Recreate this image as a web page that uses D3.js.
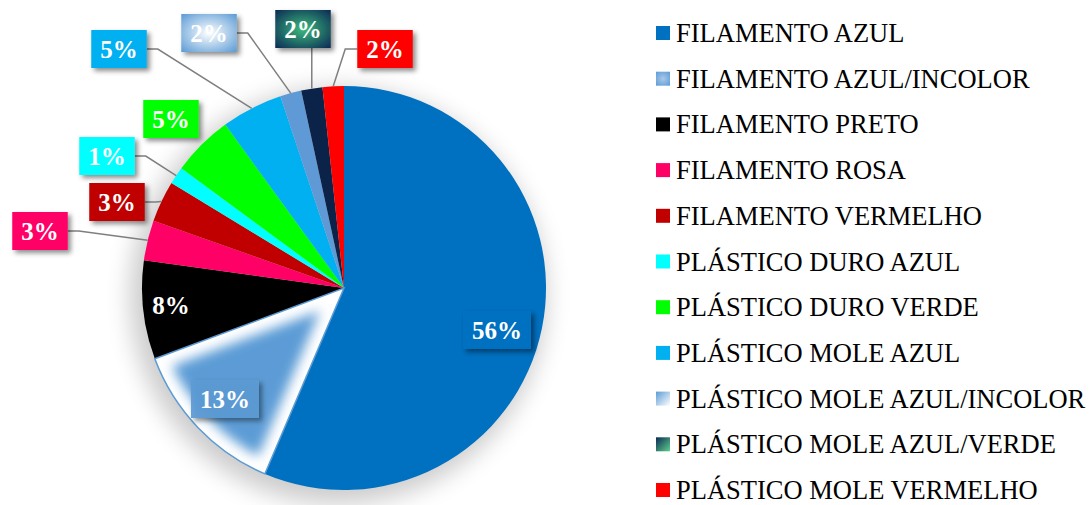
<!DOCTYPE html>
<html>
<head>
<meta charset="utf-8">
<script src="https://cdn.jsdelivr.net/npm/d3@7"></script>
<style>
  body { margin: 0; background: #fff; }
  svg { display: block; }
</style>
</head>
<body>
<div id="chart"></div>
<script>
const categories = [
  "FILAMENTO AZUL", "FILAMENTO AZUL/INCOLOR", "FILAMENTO PRETO", "FILAMENTO ROSA",
  "FILAMENTO VERMELHO", "PLÁSTICO DURO AZUL", "PLÁSTICO DURO VERDE", "PLÁSTICO MOLE AZUL",
  "PLÁSTICO MOLE AZUL/INCOLOR", "PLÁSTICO MOLE AZUL/VERDE", "PLÁSTICO MOLE VERMELHO"
];
const values = [56.4, 12.9, 7.9, 3.2, 3.3, 1.4, 4.9, 4.9, 1.7, 1.7, 1.7];
const colors = ["#0070C0", "#5B9BD5", "#000000", "#FF0066", "#C00000", "#00FFFF",
                "#00FF00", "#00B0F0", "#5B9BD5", "#0B2A55", "#FF0000"];

// label placement (offset of label centre from pie centre), px
const labelOffsets = [[153, 42], [-119, 111], [-173, 17], [-304, -57], [-227, -86],
                      [-237, -132], [-173, -169], [-225, -239], [-135, -255], [-41, -259], [41, -239]];
const hasBox = [true, true, false, true, true, true, true, true, true, true, true];
const hasLeader = [false, false, false, true, true, true, false, true, true, true, true];

const W = 1092, H = 505;
const cx = 344, cy = 288, R = 202;
const serif = "'Liberation Serif', 'Times New Roman', serif";

const svg = d3.select("#chart").append("svg")
  .attr("width", W).attr("height", H);

const defs = svg.append("defs");

// soft shadow around the pie
const pf = defs.append("filter").attr("id", "pieShadow")
  .attr("x", "-25%").attr("y", "-25%").attr("width", "150%").attr("height", "150%");
pf.append("feGaussianBlur").attr("stdDeviation", 12);

// box shadow
const bf = defs.append("filter").attr("id", "boxShadow")
  .attr("x", "-30%").attr("y", "-30%").attr("width", "170%").attr("height", "170%");
bf.append("feDropShadow").attr("dx", 3).attr("dy", 3).attr("stdDeviation", 2.5)
  .attr("flood-color", "#000").attr("flood-opacity", 0.45);

// "path gradient" for filamento azul/incolor: blue centre, white edges
const sf = defs.append("filter").attr("id", "softInner")
  .attr("x", "-10%").attr("y", "-10%").attr("width", "120%").attr("height", "120%");
sf.append("feMorphology").attr("operator", "erode").attr("radius", 10).attr("in", "SourceGraphic").attr("result", "er");
sf.append("feGaussianBlur").attr("in", "er").attr("stdDeviation", 6);

// radial gradients for label boxes
function radial(id, inner, outer) {
  const g = defs.append("radialGradient").attr("id", id).attr("r", "70%");
  g.append("stop").attr("offset", "0%").attr("stop-color", inner);
  g.append("stop").attr("offset", "100%").attr("stop-color", outer);
}
radial("boxIncolor", "#ffffff", "#5B9BD5");
radial("boxVerde", "#3DBB7C", "#0B2A55");
radial("legIncolor", "#A9C8EA", "#5B9BD5");

function diag(id, stops) {
  const g = defs.append("linearGradient").attr("id", id)
    .attr("x1", "0%").attr("y1", "0%").attr("x2", "100%").attr("y2", "100%");
  stops.forEach(s => g.append("stop").attr("offset", s[0]).attr("stop-color", s[1]));
}
diag("legMoleIncolor", [["0%", "#5B9BD5"], ["100%", "#ffffff"]]);
diag("legMoleVerde", [["0%", "#0B2A55"], ["100%", "#5FD08C"]]);

const pie = d3.pie().sort(null).value(d => d)(values);
const arc = d3.arc().innerRadius(0).outerRadius(R);

function pointAt(a, r) {
  return [cx + r * Math.sin(a), cy - r * Math.cos(a)];
}

// slice gradients along the slice axis (outer edge -> centre)
function sliceGrad(id, d, stops) {
  const mid = (d.startAngle + d.endAngle) / 2;
  const p = pointAt(mid, R);
  const g = defs.append("linearGradient").attr("id", id).attr("gradientUnits", "userSpaceOnUse")
    .attr("x1", p[0]).attr("y1", p[1]).attr("x2", cx).attr("y2", cy);
  stops.forEach(s => g.append("stop").attr("offset", s[0]).attr("stop-color", s[1]));
}
sliceGrad("sliceMoleIncolor", pie[8], [["0%", "#5F99D6"], ["50%", "#B5CFEC"], ["100%", "#ffffff"]]);
sliceGrad("sliceMoleVerde", pie[9], [["0%", "#0B2348"], ["20%", "#1F6A66"], ["45%", "#5CC48A"], ["70%", "#3CCB6A"], ["100%", "#8FE0AE"]]);

const sliceFill = colors.slice();
sliceFill[1] = "#ffffff";
sliceFill[8] = "url(#sliceMoleIncolor)";
sliceFill[9] = "url(#sliceMoleVerde)";

const boxFill = colors.slice();
boxFill[1] = "rgba(91,155,213,0.92)";
boxFill[8] = "url(#boxIncolor)";
boxFill[9] = "url(#boxVerde)";

const legendFill = colors.slice();
legendFill[1] = "url(#legIncolor)";
legendFill[8] = "url(#legMoleIncolor)";
legendFill[9] = "url(#legMoleVerde)";

// pie shadow
svg.append("circle")
  .attr("cx", cx - 6).attr("cy", cy + 8).attr("r", R + 6)
  .attr("fill", "#000").attr("opacity", 0.2)
  .attr("filter", "url(#pieShadow)");

const g = svg.append("g").attr("transform", `translate(${cx},${cy})`);

g.selectAll("path.slice")
  .data(pie)
  .join("path")
  .attr("class", "slice")
  .attr("d", arc)
  .attr("fill", (d, i) => sliceFill[i]);

// inner blue glow for filamento azul/incolor
defs.append("clipPath").attr("id", "clipIncolor")
  .append("path").attr("d", arc(pie[1])).attr("transform", `translate(${cx},${cy})`);
svg.append("g").attr("clip-path", "url(#clipIncolor)")
  .append("path")
  .attr("transform", `translate(${cx},${cy})`)
  .attr("d", arc(pie[1]))
  .attr("fill", "#5B9BD5")
  .attr("filter", "url(#softInner)");
g.append("path")
  .attr("d", arc(pie[1]))
  .attr("fill", "none")
  .attr("stroke", "#5B9BD5")
  .attr("stroke-width", 1.5);

// labels with boxes and leader lines
const boxH = 38, padX = 9;
const leaderG = svg.append("g").attr("fill", "none").attr("stroke", "#7F7F7F").attr("stroke-width", 1.5);
const boxG = svg.append("g");
const textG = svg.append("g").attr("font-family", serif)
  .attr("font-weight", "bold").attr("font-size", 25).attr("fill", "#fff").attr("text-anchor", "middle");

pie.forEach((d, i) => {
  const lx = cx + labelOffsets[i][0], ly = cy + labelOffsets[i][1];
  const txt = textG.append("text")
    .attr("x", lx).attr("y", ly).attr("dy", "0.34em")
    .text(Math.round(d.value) + "%");
  const tw = txt.node().getComputedTextLength();
  const bw = tw + padX * 2;
  const x0 = lx - bw / 2, x1 = lx + bw / 2, y0 = ly - boxH / 2, y1 = ly + boxH / 2;

  if (hasBox[i]) {
    boxG.append("rect")
      .attr("x", x0).attr("y", y0).attr("width", bw).attr("height", boxH)
      .attr("fill", boxFill[i])
      .attr("filter", "url(#boxShadow)");
  }

  if (hasLeader[i]) {
    const mid = (d.startAngle + d.endAngle) / 2;
    const p = pointAt(mid, R);
    let pts;
    if (p[0] > x0 && p[0] < x1 && p[1] > y1) {
      pts = [[p[0], y1], p];
    } else if (p[0] >= x1) {
      pts = [[x1, ly], [x1 + 11, ly], p];
    } else {
      pts = [[x0, ly], [x0 - 12, ly], p];
    }
    leaderG.append("path").attr("d", d3.line()(pts));
  }
});

// legend
const legend = svg.append("g")
  .attr("font-family", serif)
  .attr("font-size", 26.5).attr("fill", "#000");

const legendY = d3.scalePoint().domain(categories).range([33, 490]);

const rows = legend.selectAll("g.row")
  .data(categories)
  .join("g")
  .attr("class", "row")
  .attr("transform", d => `translate(656,${legendY(d)})`);

rows.append("rect")
  .attr("x", 0).attr("y", -7).attr("width", 14).attr("height", 14)
  .attr("fill", (d, i) => legendFill[i]);

rows.append("text")
  .attr("x", 20).attr("dy", "0.34em")
  .text(d => d);
</script>
</body>
</html>
